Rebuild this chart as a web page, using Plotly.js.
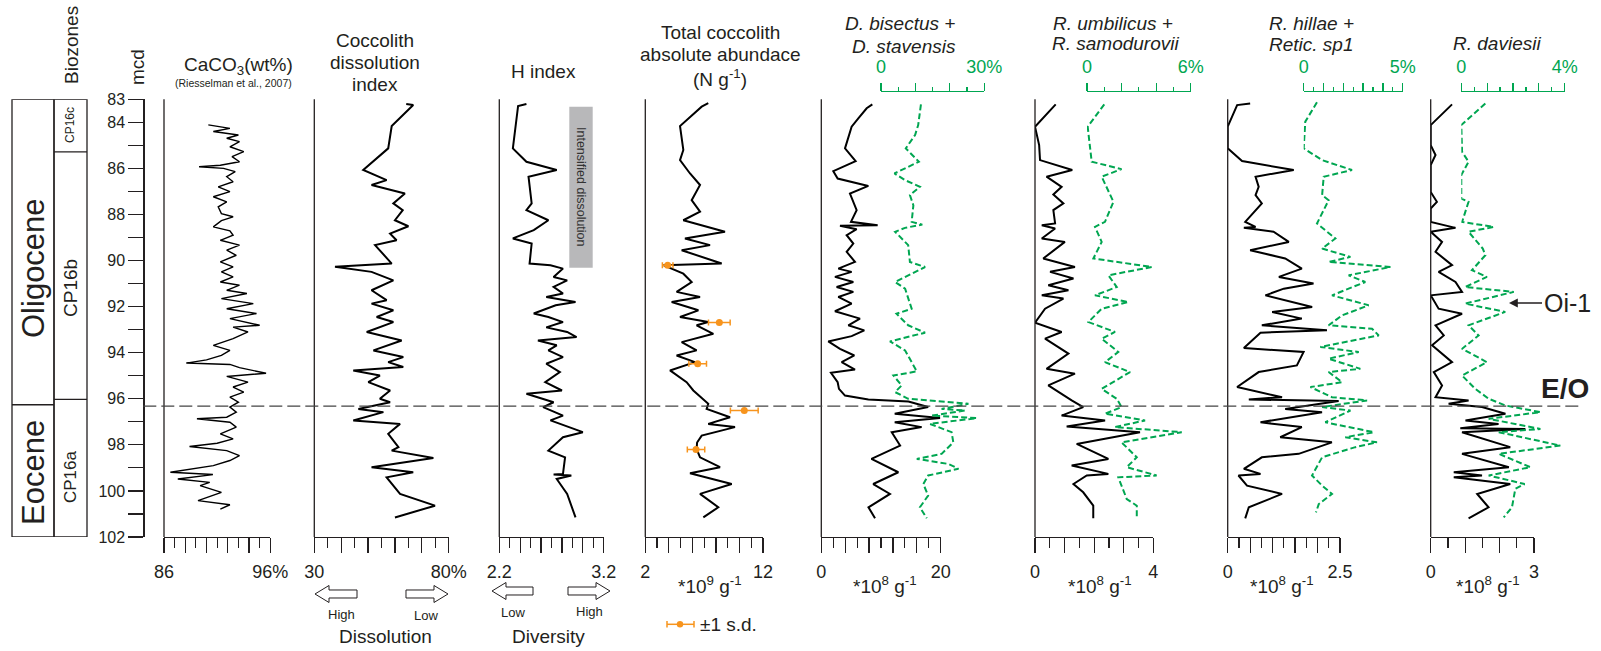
<!DOCTYPE html>
<html><head><meta charset="utf-8">
<script src="https://cdn.plot.ly/plotly-3.0.1.min.js"></script>
<style>html,body{margin:0;padding:0;background:#fff}#chart{width:1601px;height:651px}</style>
</head><body><div id="chart"></div>
<script>
// ---------------- DATA (depth in mcd, values) ----------------
const depthRange = [102, 83];
const depthTickVals = [83,84,85,86,87,88,89,90,91,92,93,94,95,96,97,98,99,100,101,102];
const depthTickText = ['83','84','','86','','88','','90','','92','','94','','96','','98','','100','','102'];
const eoBoundary = 96.32;
const epochBoundary = 96.26;
const zoneBoundaries = [85.28, 96.03];
const epochNames = ['Oligocene', 'Eocene'];
const zoneNames = ['CP16c', 'CP16b', 'CP16a'];

const caco3Depth = [84.11,84.26,84.4,84.55,84.69,84.84,85.06,85.27,85.49,85.71,85.86,85.93,86.0,86.14,86.36,86.58,86.8,87.01,87.23,87.45,87.67,87.96,88.1,88.27,88.54,88.71,88.9,89.12,89.33,89.55,89.77,90.06,90.27,90.49,90.71,90.93,91.07,91.29,91.43,91.65,91.87,92.09,92.3,92.52,92.81,92.89,93.1,93.39,93.68,93.9,94.12,94.31,94.45,94.51,94.65,94.77,94.89,95.03,95.28,95.49,95.71,95.93,96.15,96.36,96.58,96.8,96.87,97.02,97.23,97.52,97.74,97.93,98.07,98.25,98.47,98.68,98.9,99.19,99.29,99.48,99.63,99.77,100.06,100.42,100.6,100.79];
const caco3Val = [90.17,92.2,90.64,93.0,91.9,93.1,92.2,93.5,92.4,93.1,91.3,89.3,91.6,92.7,91.9,92.5,91.1,92.2,90.64,91.9,91.1,91.4,92.5,91.4,90.64,92.2,92.5,91.3,93.1,91.9,92.8,91.3,92.5,91.4,92.5,91.3,93.1,91.9,93.8,91.4,94.4,91.9,94.7,92.2,95.0,92.5,93.9,92.5,90.64,92.2,91.4,90.0,88.1,92.2,93.1,94.4,95.6,91.9,93.9,92.5,93.5,92.2,93.0,92.2,92.8,91.9,89.1,92.2,92.8,91.3,92.5,91.0,88.4,91.9,93.1,92.2,90.64,86.6,90.6,87.3,90.3,89.4,91.4,89.2,92.2,91.3];

const dissDepth = [83.2,83.25,84.16,85.13,86.07,86.51,86.72,87.09,87.52,87.81,88.25,88.51,88.83,89.12,89.33,90.13,90.27,90.49,90.86,91.29,91.72,91.87,92.16,92.45,92.67,93.1,93.47,93.9,94.19,94.41,94.62,94.77,94.99,95.28,95.64,96.0,96.15,96.44,96.58,96.94,97.09,97.52,98.1,98.25,98.57,98.97,99.19,99.41,100.13,100.64,101.15];
const dissVal = [64.2,66.8,58.8,57.5,48.2,56.9,51.3,63.7,59.4,62.9,60.0,65.0,58.2,60.6,52.6,58.8,37.7,51.3,59.4,51.3,56.9,51.3,59.4,53.2,59.4,49.5,62.5,52.0,63.1,57.5,63.1,44.5,54.4,50.1,58.2,54.4,58.2,46.4,55.7,44.5,61.9,57.5,61.3,58.8,74.3,51.3,66.8,56.9,61.9,74.9,60.0];

const hDepth = [83.2,83.29,85.13,85.71,86.07,86.36,87.52,87.81,88.25,88.68,89.04,89.26,90.13,90.2,90.35,90.71,90.86,91.14,91.43,91.58,91.8,91.94,92.3,92.45,92.67,92.9,93.1,93.32,93.47,93.68,93.9,94.19,94.48,94.84,95.28,95.64,95.78,96.15,96.36,96.73,96.94,97.45,97.67,98.25,98.54,99.26,99.29,99.33,99.48,100.13,101.15];
const hVal = [2.46,2.38,2.33,2.46,2.75,2.48,2.51,2.46,2.67,2.53,2.33,2.51,2.49,2.69,2.81,2.72,2.85,2.72,2.81,2.65,2.93,2.74,2.53,2.67,2.81,2.65,2.85,2.94,2.57,2.75,2.67,2.81,2.65,2.78,2.64,2.8,2.46,2.72,2.62,2.81,2.69,3.0,2.81,2.67,2.83,2.81,2.72,2.89,2.75,2.85,2.93];

const totDepth = [83.17,83.32,84.16,85.2,85.64,86.22,86.72,87.38,87.88,88.25,88.75,89.04,89.33,89.55,90.13,90.2,90.57,90.93,91.36,91.58,91.8,92.16,92.45,92.67,92.81,93.18,93.54,93.9,94.12,94.41,94.77,95.28,95.64,96.22,96.44,96.8,97.09,97.23,97.6,97.9,98.18,98.54,98.97,99.23,99.7,100.13,100.71,101.15];
const totVal = [7.35,6.79,4.95,5.23,4.95,5.8,6.65,5.94,6.65,5.23,8.77,5.37,7.5,5.09,8.49,3.53,5.23,5.94,4.66,6.65,4.24,6.51,4.95,7.35,6.36,7.78,5.09,6.36,4.66,6.22,4.1,5.51,6.08,7.35,7.21,9.2,7.35,9.62,6.79,6.4,6.36,6.65,8.35,5.8,9.34,6.65,8.2,6.93];
const sdDepth = [90.2, 92.69, 94.48, 96.51, 98.2];
const sdVal = [3.9, 8.29, 6.45, 10.41, 6.31];
const sdErr = [0.45, 0.92, 0.75, 1.18, 0.74];

const bisDepth = [83.22,83.39,83.83,84.19,85.13,85.68,86.12,86.44,86.76,87.09,87.81,88.32,88.47,88.49,88.64,88.9,89.26,89.62,90.06,90.35,90.49,90.71,90.93,91.15,91.36,91.58,91.87,92.2,92.52,92.81,93.03,93.28,93.51,93.83,94.12,94.41,94.73,94.87,95.28,95.57,95.86,96.03,96.12,96.36,96.65,96.83,97.02,97.23,97.45,98.03,98.61,99.19,99.7,100.13,100.71,101.19];
const bisAbs = [8.55,7.6,6.2,5.08,3.97,5.75,2.01,2.74,7.88,4.8,5.92,4.97,9.44,3.13,5.92,4.25,5.36,4.25,5.64,2.85,5.08,2.29,5.36,2.57,5.36,2.85,5.08,2.29,6.48,4.53,7.2,5.08,1.17,3.13,5.53,3.41,5.64,1.62,2.74,2.96,3.97,7.88,14.6,17.9,12.3,19.9,12.3,16.8,11.8,13.2,8.4,12.9,8.7,11.5,7.9,9.0];
const bisPctDepth = [83.22,84.12,84.55,85.13,85.71,86.22,86.51,86.8,87.16,87.6,88.32,88.44,88.58,88.75,89.33,90.06,90.28,90.93,91.22,92.09,92.31,92.81,93.13,93.51,93.9,94.41,94.81,94.99,95.42,95.71,96.0,96.22,96.44,96.51,96.73,96.84,97.09,97.45,97.89,98.39,98.61,98.83,99.04,99.33,99.7,100.2,100.71,101.19];
const bisPct = [11.6,10.8,9.9,7.2,11.0,3.9,7.0,11.3,8.4,9.4,8.9,12.0,6.97,4.1,7.9,8.4,12.8,4.1,7.0,8.9,4.5,7.9,12.8,2.6,7.0,8.9,10.4,3.6,6.0,4.1,7.9,25.4,17.6,24.4,14.7,27.8,14.2,20.5,21.0,17.6,10.4,19.6,22.5,13.7,12.3,13.7,11.3,13.3];

const umbDepth = [83.22,84.19,84.99,85.64,86.07,86.36,86.8,87.13,87.52,87.81,88.39,88.47,88.61,89.04,89.19,89.91,90.28,90.49,90.78,91.07,91.29,91.51,91.65,92.09,92.7,93.1,93.39,94.04,94.7,94.91,95.42,95.71,96.07,96.36,96.73,96.94,97.2,97.45,97.96,98.61,98.9,99.26,99.33,99.7,100.06,100.64,101.19];
const umbAbs = [0.70,0,0.14,0.17,1.26,0.39,0.9,0.62,0.96,0.62,0.68,0.23,0.68,0.23,1.01,0.28,1.35,0.51,1.30,0.45,1.13,0.23,0.96,0.34,0,0.9,0.34,1.13,0.39,1.35,0.45,0.79,1.24,1.63,0.9,2.37,1.07,3.55,1.41,2.48,1.24,2.48,1.75,1.3,1.63,1.97,1.97];
const umbPctDepth = [83.22,84.19,85.71,86.03,86.36,87.45,88.32,88.54,89.19,89.91,90.28,90.64,91.15,91.51,91.8,92.09,92.67,93.1,93.39,93.97,94.41,94.84,95.57,96.0,96.36,96.65,96.94,97.23,97.45,97.89,98.54,98.97,99.33,99.41,100.35,100.64,101.1];
const umbPct = [1.0,0.04,0.27,2.0,0.85,1.53,1.04,0.46,0.85,0.37,3.75,1.24,1.72,0.46,2.39,0.85,0.08,1.62,0.85,1.81,1.04,2.49,0.85,1.72,2.0,1.04,3.36,1.62,5.48,2.0,2.88,2.3,4.03,1.81,2.3,2.88,2.88];

const hilDepth = [83.18,83.25,84.19,85.13,85.68,86.07,86.36,86.8,87.16,87.52,88.32,88.54,88.58,88.75,89.19,89.55,89.91,90.35,90.71,91.0,91.22,91.51,92.02,92.23,92.52,92.81,93.03,93.13,93.8,93.97,94.55,94.84,95.49,95.93,96.03,96.1,96.44,96.58,97.02,97.23,97.67,97.89,98.39,98.54,99.04,99.26,99.33,99.77,100.13,100.71,101.19];
const hilAbs = [0.5,0.21,0,0,0.32,1.47,0.62,0.69,0.62,0.76,0.39,0.62,0.36,1.02,1.36,0.5,1.28,1.65,1.14,1.91,1.25,0.84,1.88,0.99,1.65,0.76,2.21,0.73,0.36,1.69,1.54,0.69,0.21,1.21,0.47,2.47,1.28,2.1,0.73,1.65,1.17,2.32,1.58,0.76,0.36,0.73,0.24,0.43,1.21,0.47,0.39];
const hilPctDepth = [83.13,83.97,85.13,85.64,86.07,86.36,87.16,87.38,88.39,89.04,89.48,89.84,90.06,90.28,90.64,90.93,91.51,91.94,92.38,92.81,92.96,93.25,93.75,93.97,94.26,94.7,94.84,95.28,95.49,95.93,96.07,96.36,96.51,97.02,97.45,97.67,97.89,98.1,98.54,99.33,99.77,100.13,100.57,100.93];
const hilPct = [0.67,0.08,0,0.93,2.44,1.01,0.93,1.26,0.67,1.6,0.93,2.36,1.26,4.38,2.27,3.11,1.43,3.28,1.94,1.26,3.45,3.79,0.84,2.78,1.26,2.86,1.26,1.94,0.34,1.43,3.2,0.93,2.36,1.09,3.54,2.1,3.7,2.61,0.93,0.42,0.93,1.43,0.76,0.62];

const davDepth = [83.22,84.12,84.99,85.42,85.86,87.02,87.45,87.74,88.32,88.58,88.75,89.19,89.62,90.2,90.49,90.93,91.36,91.51,92.09,92.31,92.81,93.25,93.68,94.41,94.84,95.42,95.93,96.07,96.22,96.36,96.65,96.94,97.09,97.28,97.31,97.45,98.1,98.39,98.97,99.19,99.33,99.41,99.7,100.13,100.71,101.19];
const davAbs = [0.62,0,0,0.14,0,0,0.18,0,0,0.72,0,0.33,0.14,0.62,0.23,0.72,0.91,0,0.23,0.91,0.14,0.38,0.04,0.62,0.09,0.33,0.14,1.1,0.52,1.49,2.17,1.01,1.97,0.86,2.75,0.91,2.31,0.91,2.27,0.67,1.49,0.67,2.31,1.35,1.68,1.1];
const davPctDepth = [83.18,84.12,85.28,85.71,86.29,87.31,87.45,88.32,88.54,88.75,89.48,89.77,90.42,90.71,91.15,91.36,91.87,92.23,92.81,93.25,93.83,94.41,94.99,95.57,96.0,96.29,96.58,96.87,97.31,97.45,98.03,98.39,98.97,99.33,99.7,99.91,100.71,101.15];
const davPct = [0.93,0,0.03,0.28,0,0,0.28,0.03,1.25,0.28,0.83,0.93,0.41,0.99,0.15,2.03,0.15,1.7,0.28,0.67,0.03,0.99,0.03,0.54,1.06,1.7,3.06,1.06,3.06,1.45,3.83,1.45,2.67,1.06,2.45,2.09,1.96,1.64];

// ---------------- LAYOUT HELPERS ----------------
const W = 1601, H = 651, MT = 91, MB = 114, PH = H - MT - MB;
const BOT = H - MB;
const yTop = (BOT - 99.3) / PH;
const px = x => x / W;
const py = y => (BOT - y) / PH;
const FONT = 'Liberation Sans, Arial, Helvetica, sans-serif';
const TXT = '#231f20';
const GREEN = '#00a651';
const ORANGE = '#f7941d';

function seq(a, b, s) { const r = []; for (let v = a; v <= b + s * 1e-6; v += s) r.push(+v.toFixed(4)); return r; }
function axisTicks(a, b, majorStep, minorStep, lo, hi) {
  const major = seq(a, b, majorStep);
  const all = seq(a, b, minorStep);
  const minor = all.filter(v => !major.some(m => Math.abs(m - v) < 1e-6));
  const text = major.map((v, i) => i === 0 ? lo : (i === major.length - 1 ? hi : ''));
  return {major, minor, text};
}

const panels = [
  {left:164, right:270.3, range:[86,96], t:axisTicks(86,96,2,1,'86','96%')},
  {left:314.3, right:448.7, range:[30,80], t:axisTicks(30,80,10,5,'30','80%')},
  {left:499.3, right:603.7, range:[2.2,3.2], t:axisTicks(2.2,3.2,0.2,0.1,'2.2','3.2')},
  {left:645.3, right:763, range:[2,12], t:axisTicks(2,12,2,1,'2','12')},
  {left:821.3, right:940.7, range:[0,20], t:axisTicks(0,20,4,2,'0','20')},
  {left:1035, right:1153.3, range:[0,4], t:axisTicks(0,4,1,0.5,'0','4')},
  {left:1227.7, right:1340, range:[0,2.5], t:axisTicks(0,2.5,0.5,0.25,'0','2.5')},
  {left:1430.7, right:1534, range:[0,3], t:axisTicks(0,3,1,0.5,'0','3')},
];
const greens = [
  {left:881, right:984.3, range:[0,30], t:axisTicks(0,30,10,5,'0','30%')},
  {left:1087, right:1190.7, range:[0,6], t:axisTicks(0,6,2,1,'0','6%')},
  {left:1303.7, right:1402.7, range:[0,5], t:axisTicks(0,5,1,0.5,'0','5%')},
  {left:1461.3, right:1564.7, range:[0,4], t:axisTicks(0,4,1,0.5,'0','4%')},
];

const layout = {
  width: W, height: H,
  margin: {l:0, r:0, t:MT, b:MB, autoexpand:false},
  paper_bgcolor: '#fff', plot_bgcolor: 'rgba(0,0,0,0)',
  showlegend: false,
  font: {family: FONT, color: TXT},
  shapes: [], annotations: []
};

layout.yaxis = {
  domain:[0, yTop], range: depthRange, autorange:false, anchor:'free', position:px(143.3), side:'left',
  showline:true, linecolor:TXT, linewidth:1.3, ticks:'outside', ticklen:15, tickwidth:1.2, tickcolor:TXT,
  tickmode:'array', tickvals: depthTickVals, ticktext: depthTickText, tickfont:{size:16, color:TXT, family:FONT},
  showgrid:false, zeroline:false
};

panels.forEach((p, i) => {
  const n = i + 1;
  const xk = n === 1 ? 'xaxis' : 'xaxis' + n;
  layout[xk] = {
    domain:[px(p.left), px(p.right)], range:p.range, autorange:false, anchor: n === 1 ? 'y' : 'y' + n, side:'bottom',
    showline:true, linecolor:TXT, linewidth:1.2, ticks:'outside', ticklen:15, tickwidth:1.2, tickcolor:TXT,
    tickmode:'array', tickvals:p.t.major, ticktext:p.t.text, tickfont:{size:18, color:TXT, family:FONT},
    ticklabelstandoff: 3,
    minor:{tickvals:p.t.minor, ticks:'outside', ticklen:10, tickwidth:1.2, tickcolor:TXT, showgrid:false},
    showgrid:false, zeroline:false
  };
  if (n > 1) layout['yaxis' + n] = {domain:[0, yTop], range:depthRange, autorange:false, anchor:'x' + n, visible:false};
  layout.shapes.push({type:'line', xref:'paper', yref:'paper', x0:px(p.left), x1:px(p.left), y0:0, y1:yTop, line:{color:TXT, width:1.3}});
});
greens.forEach((g, i) => {
  const n = 9 + i;
  layout['xaxis' + n] = {
    domain:[px(g.left), px(g.right)], range:g.range, autorange:false, anchor:'free', position:1, side:'top',
    showline:true, linecolor:GREEN, linewidth:1.2, ticks:'outside', ticklen:8, tickwidth:1.2, tickcolor:GREEN,
    tickmode:'array', tickvals:g.t.major, ticktext:g.t.text, tickfont:{size:18, color:GREEN, family:FONT},
    ticklabelstandoff: 3,
    minor:{tickvals:g.t.minor, ticks:'outside', ticklen:4, tickwidth:1.2, tickcolor:GREEN, showgrid:false},
    showgrid:false, zeroline:false
  };
  layout['yaxis' + n] = {domain:[0, yTop], range:depthRange, autorange:false, anchor:'x' + n, visible:false};
});

// ---------------- TRACES ----------------
function blk(x, y, n, w) { return {type:'scatter', mode:'lines', x, y, xaxis: n === 1 ? 'x' : 'x' + n, yaxis: n === 1 ? 'y' : 'y' + n, line:{color:'#000', width:w || 2}, hoverinfo:'skip'}; }
function grn(x, y, n) { return {type:'scatter', mode:'lines', x, y, xaxis:'x' + n, yaxis:'y' + n, line:{color:GREEN, width:2, dash:'6px,3px'}, hoverinfo:'skip'}; }
const data = [
  blk(caco3Val, caco3Depth, 1, 1.4),
  blk(dissVal, dissDepth, 2),
  blk(hVal, hDepth, 3),
  blk(totVal, totDepth, 4),
  {type:'scatter', mode:'markers', x:sdVal, y:sdDepth, xaxis:'x4', yaxis:'y4', marker:{color:ORANGE, size:7},
   error_x:{type:'data', array:sdErr, visible:true, color:ORANGE, thickness:1.5, width:3}, hoverinfo:'skip'},
  blk(bisAbs, bisDepth, 5), grn(bisPct, bisPctDepth, 9),
  blk(umbAbs, umbDepth, 6), grn(umbPct, umbPctDepth, 10),
  blk(hilAbs, hilDepth, 7), grn(hilPct, hilPctDepth, 11),
  blk(davAbs, davDepth, 8), grn(davPct, davPctDepth, 12),
];

// ---------------- SHAPES ----------------
const S = layout.shapes;
S.push({type:'line', xref:'paper', yref:'y', x0:px(143.3), x1:px(1582), y0:eoBoundary, y1:eoBoundary, line:{color:'#444', width:1.3, dash:'13px,5px'}});
S.push({type:'rect', xref:'paper', yref:'y', x0:px(12), x1:px(54), y0:depthRange[1], y1:depthRange[0], line:{color:TXT, width:1.3}});
S.push({type:'rect', xref:'paper', yref:'y', x0:px(54), x1:px(87), y0:depthRange[1], y1:depthRange[0], line:{color:TXT, width:1.3}});
S.push({type:'line', xref:'paper', yref:'y', x0:px(12), x1:px(54), y0:epochBoundary, y1:epochBoundary, line:{color:TXT, width:1.3}});
zoneBoundaries.forEach(z => S.push({type:'line', xref:'paper', yref:'y', x0:px(54), x1:px(87), y0:z, y1:z, line:{color:TXT, width:1.3}}));
S.push({type:'rect', xref:'paper', yref:'paper', x0:px(569.3), x1:px(592.7), y0:py(267.7), y1:py(106.7), fillcolor:'#b8b8ba', line:{width:0}, layer:'below'});
function arrow(x0, x1, yc, dir) {
  const hh = 8.5, sh = 4, hl = 14;
  let pts;
  if (dir < 0) pts = [[x0,yc],[x0+hl,yc-hh],[x0+hl,yc-sh],[x1,yc-sh],[x1,yc+sh],[x0+hl,yc+sh],[x0+hl,yc+hh]];
  else pts = [[x1,yc],[x1-hl,yc-hh],[x1-hl,yc-sh],[x0,yc-sh],[x0,yc+sh],[x1-hl,yc+sh],[x1-hl,yc+hh]];
  const path = 'M' + pts.map(p => px(p[0]).toFixed(5) + ',' + py(p[1]).toFixed(5)).join(' L') + ' Z';
  return {type:'path', xref:'paper', yref:'paper', path, fillcolor:'#fff', line:{color:TXT, width:1}};
}
S.push(arrow(315, 357, 594, -1), arrow(406, 448, 594, 1), arrow(492, 533, 591, -1), arrow(568, 610, 591, 1));
S.push({type:'line', xref:'paper', yref:'paper', x0:px(667), x1:px(694), y0:py(624.3), y1:py(624.3), line:{color:ORANGE, width:1.5}});
S.push({type:'line', xref:'paper', yref:'paper', x0:px(667), x1:px(667), y0:py(621), y1:py(627.6), line:{color:ORANGE, width:1.5}});
S.push({type:'line', xref:'paper', yref:'paper', x0:px(694), x1:px(694), y0:py(621), y1:py(627.6), line:{color:ORANGE, width:1.5}});
S.push({type:'circle', xref:'paper', yref:'paper', x0:px(676.8), x1:px(683.2), y0:py(627.5), y1:py(621.1), fillcolor:ORANGE, line:{width:0}});

// ---------------- ANNOTATIONS ----------------
function ann(text, x, y, size, o) {
  return Object.assign({text, x:px(x), y:py(y), xref:'paper', yref:'paper', xanchor:'center', yanchor:'middle',
    showarrow:false, font:{size, color:TXT, family:FONT}}, o || {});
}
const A = layout.annotations;
A.push(ann('Biozones', 72, 45, 19, {textangle:-90}));
A.push(ann('mcd', 137, 67, 19, {textangle:-90}));
A.push(ann(epochNames[0], 33, 268, 31, {textangle:-90}));
A.push(ann(epochNames[1], 33, 473, 31, {textangle:-90}));
A.push(ann(zoneNames[0], 70, 125, 12, {textangle:-90}));
A.push(ann(zoneNames[1], 70, 288, 19, {textangle:-90}));
A.push(ann(zoneNames[2], 70, 477, 17, {textangle:-90}));
A.push(ann('CaCO<sub>3</sub>(wt%)', 238, 66, 19));
A.push(ann('(Riesselman et al., 2007)', 233, 83, 10.5));
A.push(ann('Coccolith', 375, 40.3, 19));
A.push(ann('dissolution', 375, 62.7, 19));
A.push(ann('index', 375, 85, 19));
A.push(ann('H index', 543, 71, 19));
A.push(ann('Intensified dissolution', 581, 187, 12.5, {textangle:90, font:{size:12.5, color:'#333', family:FONT}}));
A.push(ann('Total coccolith', 720, 32.3, 19));
A.push(ann('absolute abundace', 720, 55, 19));
A.push(ann('(N g<sup>-1</sup>)', 720, 78, 19));
A.push(ann('<i>D. bisectus +</i>', 900, 23, 19));
A.push(ann('<i>D. stavensis</i>', 904, 46, 19));
A.push(ann('<i>R. umbilicus +</i>', 1113, 23, 19));
A.push(ann('<i>R. samodurovii</i>', 1115, 43.5, 19));
A.push(ann('<i>R. hillae +</i>', 1267, 23.3, 19, {xanchor:'left'}));
A.push(ann('<i>Retic. sp1</i>', 1267, 45, 19, {xanchor:'left'}));
A.push(ann('<i>R. daviesii</i>', 1497, 43.5, 19));
A.push(ann('*10<sup>9</sup> g<sup>-1</sup>', 710, 585, 19));
A.push(ann('*10<sup>8</sup> g<sup>-1</sup>', 885, 585, 19));
A.push(ann('*10<sup>8</sup> g<sup>-1</sup>', 1100, 585, 19));
A.push(ann('*10<sup>8</sup> g<sup>-1</sup>', 1282, 585, 19));
A.push(ann('*10<sup>8</sup> g<sup>-1</sup>', 1488, 585, 19));
A.push(ann('High', 341, 614, 13));
A.push(ann('Low', 426, 615, 13));
A.push(ann('Low', 513, 612.7, 13));
A.push(ann('High', 589, 611.7, 13));
A.push(ann('Dissolution', 385, 636.7, 19));
A.push(ann('Diversity', 548, 636.7, 19));
A.push(ann('±1 s.d.', 698, 624.3, 19, {xanchor:'left'}));
A.push(ann('<b>E/O</b>', 1565, 389, 28));
A.push({text:'Oi-1', x:px(1509), y:py(303), xref:'paper', yref:'paper', showarrow:true, arrowhead:2, arrowsize:1.1,
  arrowwidth:1.6, arrowcolor:TXT, ax:58, ay:0, axref:'pixel', ayref:'pixel', standoff:0,
  font:{size:25, color:TXT, family:FONT}});

Plotly.newPlot('chart', data, layout, {staticPlot:true, displayModeBar:false});
</script></body></html>
